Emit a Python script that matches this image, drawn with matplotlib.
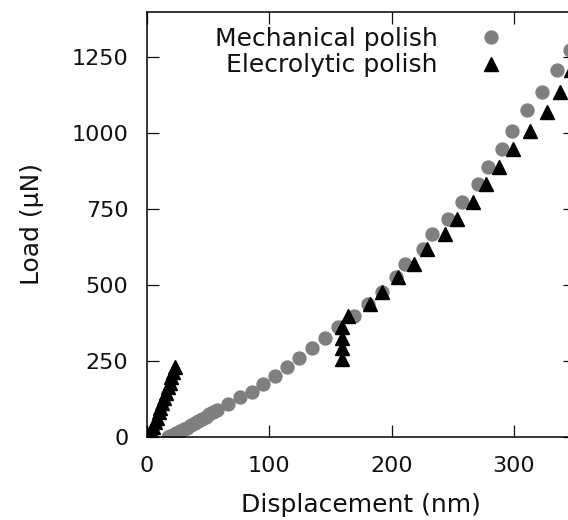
import matplotlib
matplotlib.use("Agg")
import matplotlib.pyplot as plt

plt.rcParams['font.family'] = ['DejaVu Sans']

# load-displacement data, nm vs uN
mech_disp = [17, 19, 21, 24, 27, 30, 33, 36, 39, 42, 45, 48, 51, 54, 57,
             66.5, 76, 86, 95, 104.7, 114.2, 124.3, 135.3, 145.6, 156.4,
             169, 181, 192.3, 204, 211, 225.5, 233.2, 246.4, 258, 271,
             279, 290.5, 298.7, 310.4, 322.7, 335, 346]
mech_load = [0, 3, 7, 12, 18, 24, 30, 37, 44, 52, 59, 66, 74, 81, 89,
             107, 130, 146, 173, 200, 228, 258, 292, 325, 360,
             396, 437, 477, 524, 568, 616, 666, 716, 773, 830,
             886, 945, 1006, 1075, 1135, 1206, 1272]

elec_disp = [0, 2, 3.5, 5, 6.5, 8, 9.5, 11, 12.5, 14, 15.5, 17, 18.5, 20,
             21.5, 23, 159.2, 159.2, 159.2, 159.2, 164.6, 182.3, 192,
             205.5, 218.3, 228.6, 243.7, 253.2, 266.3, 277.2, 288, 299.5,
             313.2, 326.7, 337.7, 347]
elec_load = [0, 8, 20, 33, 48, 63, 80, 96, 112, 128, 145, 162, 178, 195,
             212, 230, 255, 291, 324, 360, 397, 436, 477,
             526, 568, 616, 666, 716, 773, 830, 886, 945,
             1006, 1069, 1135, 1206]

fig = plt.figure(figsize=(5.68, 5.2), dpi=100)
ax = fig.add_axes([147 / 568, 83.3 / 520, 428 / 568, 425 / 520])

ax.plot(mech_disp, mech_load, linestyle='none', marker='o', ms=9.3,
        color='#7f7f7f', mec='#7f7f7f', label='Mechanical polish')
ax.plot(elec_disp, elec_load, linestyle='none', marker='^', ms=10,
        color='black', label='Elecrolytic polish')

ax.set_xlim(0, 350)
ax.set_ylim(0, 1398)
ax.set_xticks([0, 100, 200, 300])
ax.set_yticks([0, 250, 500, 750, 1000, 1250])

ax.tick_params(direction='in', length=8.6, width=0.9, labelsize=16,
               top=True, right=True, colors='#111111')
ax.tick_params(axis='y', pad=13.5)
ax.tick_params(axis='x', pad=14)
for s in ax.spines.values():
    s.set_linewidth(1.1)

ax.set_xlabel('Displacement (nm)', fontsize=18, labelpad=12, color='#111111')
ax.set_ylabel('Load (\u00b5N)', fontsize=18, labelpad=20, color='#111111')

leg = ax.legend(loc='upper right', bbox_to_anchor=(503 / 568, 1 - 27 / 520),
                bbox_transform=fig.transFigure, frameon=False, markerfirst=False,
                numpoints=1, handlelength=1.0, handletextpad=1.6,
                borderpad=0, borderaxespad=0, labelspacing=0.09, fontsize=18)
for t in leg.get_texts():
    t.set_color('#111111')

fig.savefig('out.png', dpi=100)
